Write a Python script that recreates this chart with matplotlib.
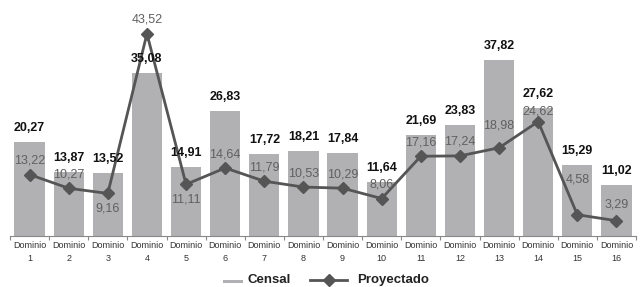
import matplotlib.pyplot as plt
from matplotlib.lines import Line2D
from matplotlib.patches import Rectangle

plt.rcParams['font.family'] = ['Liberation Sans', 'DejaVu Sans']

dominios = ['Dominio\n%d' % i for i in range(1, 17)]
censal = [20.27, 13.87, 13.52, 35.08, 14.91, 26.83, 17.72, 18.21,
          17.84, 11.64, 21.69, 23.83, 37.82, 27.62, 15.29, 11.02]
proyectado = [13.22, 10.27, 9.16, 43.52, 11.11, 14.64, 11.79, 10.53,
              10.29, 8.06, 17.16, 17.24, 18.98, 24.62, 4.58, 3.29]

# label offsets (points) for the projected values
proj_off = [10, 10, -11, 10, -11, 10, 10, 10, 10, 10, 10, 10, 16, 7, 25, 12]

BAR = '#b1b1b4'
LINE = '#555555'

fig = plt.figure(figsize=(6.4, 2.87), dpi=100)
ax = fig.add_axes([10 / 640, 51 / 287, 626 / 640, 224 / 287])

x = list(range(len(censal)))
ax.bar(x, censal, width=0.77, color=BAR, zorder=1)
ax.plot(x, proyectado, color=LINE, lw=2.0, marker='D', markersize=6.2, zorder=3)

for xi, v in zip(x, censal):
    ax.annotate(('%.2f' % v).replace('.', ','), (xi, v), xytext=(0, 10),
                textcoords='offset points', ha='center', va='center',
                fontsize=9, fontweight='bold', color='#111111', zorder=4)
for xi, v, off in zip(x, proyectado, proj_off):
    ax.annotate(('%.2f' % v).replace('.', ','), (xi, v), xytext=(0, off),
                textcoords='offset points', ha='center', va='center',
                fontsize=9, color='#606060', zorder=4)

ax.set_xlim(-0.5, len(x) - 0.5)
ax.set_ylim(0, 48.2)
ax.set_yticks([])
for s in ['top', 'right', 'left']:
    ax.spines[s].set_visible(False)
ax.spines['bottom'].set_color('#888888')
ax.spines['bottom'].set_linewidth(0.8)

ax.set_xticks([i - 0.5 for i in range(len(x) + 1)], minor=False)
ax.set_xticklabels([])
ax.tick_params(axis='x', which='major', length=3, color='#888888')
ax.set_xticks(x, minor=True)
ax.set_xticklabels(dominios, minor=True, fontsize=6.5, color='#333333',
                   linespacing=1.55)
ax.tick_params(axis='x', which='minor', length=0, pad=3.5)

# legend drawn by hand
fig.patches.append(Rectangle((223 / 640, 1 - 283 / 287), 20 / 640, 3.5 / 287,
                             transform=fig.transFigure, facecolor=BAR,
                             edgecolor='none'))
fig.text(247 / 640, 1 - 280 / 287, 'Censal', fontsize=9.5, fontweight='bold',
         va='center', ha='left', color='#222222')
fig.lines.append(Line2D([310 / 640, 347 / 640], [1 - 280 / 287] * 2,
                        transform=fig.transFigure, color=LINE, lw=2.0))
fig.lines.append(Line2D([328.5 / 640], [1 - 280 / 287], transform=fig.transFigure,
                        color=LINE, marker='D', markersize=6.2))
fig.text(357 / 640, 1 - 280 / 287, 'Proyectado', fontsize=9.5,
         fontweight='bold', va='center', ha='left', color='#222222')

fig.savefig('out.png', dpi=100)
